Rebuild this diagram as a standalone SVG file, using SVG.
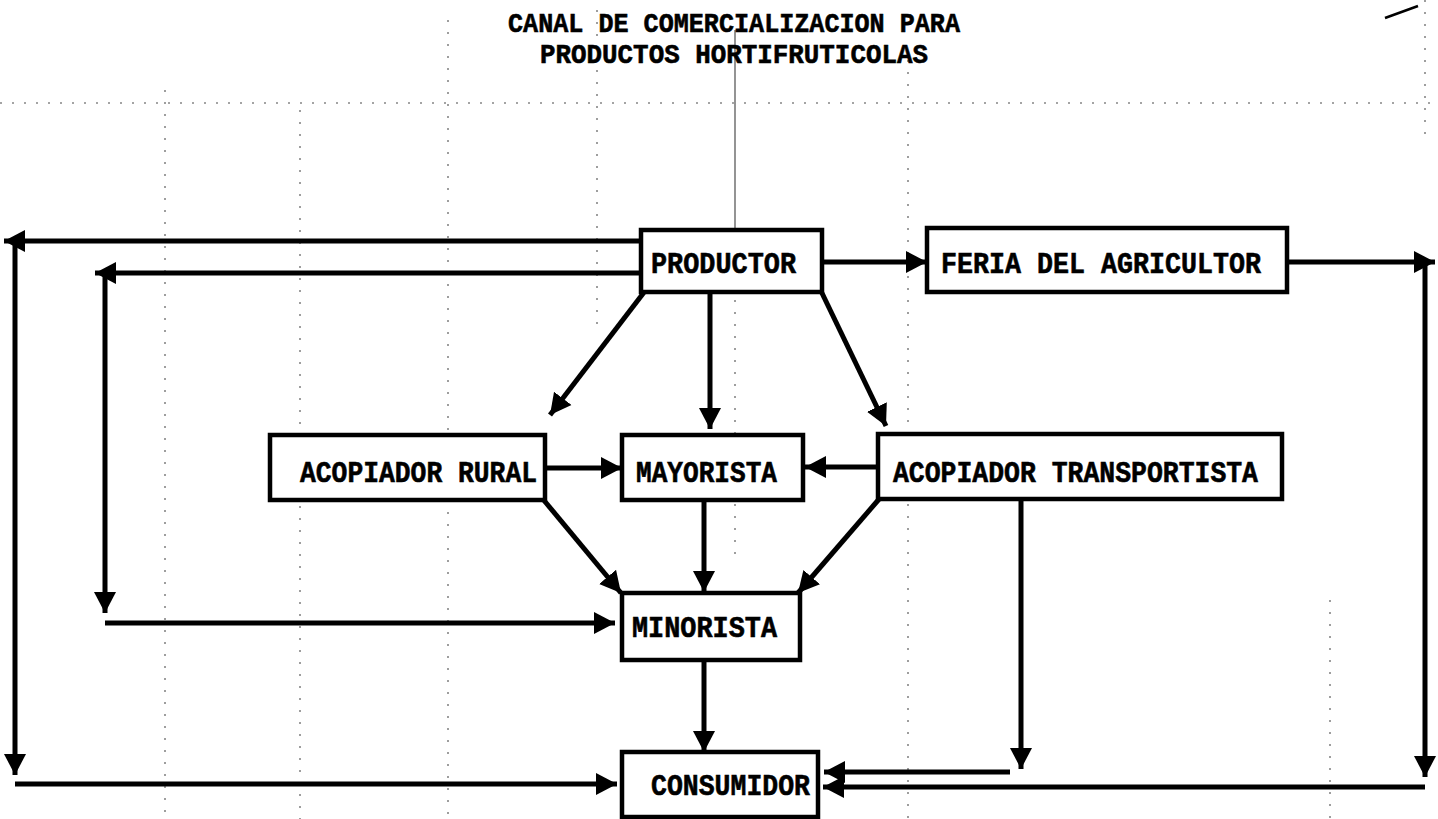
<svg xmlns="http://www.w3.org/2000/svg" width="1438" height="819" viewBox="0 0 1438 819">
<style>
.bg{fill:#ffffff}
.grid{stroke:#222;stroke-width:1.6;stroke-dasharray:2 10;fill:none;opacity:0.55}
.box{fill:#ffffff;stroke:#000;stroke-width:4.5}
.lbl{font-family:"Liberation Mono","DejaVu Sans Mono",monospace;font-weight:bold;font-size:30px;fill:#000;stroke:#000;stroke-width:0.6}
.ttl{font-family:"Liberation Mono","DejaVu Sans Mono",monospace;font-weight:bold;font-size:28px;fill:#000;stroke:#000;stroke-width:0.6}
.con{stroke:#000;stroke-width:5;fill:none;marker-end:url(#ah)}
</style>
<defs>
<marker id="ah" markerUnits="userSpaceOnUse" viewBox="0 0 22 24" markerWidth="22" markerHeight="24" refX="21" refY="12" orient="auto">
<path d="M0,1 L21,12 L0,23 z" fill="#000"/>
</marker>
</defs>
<rect class="bg" x="0" y="0" width="1438" height="819"/>
<g id="background-grid">
<line class="grid" x1="165" y1="90" x2="165" y2="819"/>
<line class="grid" x1="300" y1="110" x2="300" y2="819"/>
<line class="grid" x1="448" y1="20" x2="448" y2="819"/>
<line class="grid" x1="597" y1="10" x2="597" y2="330"/>
<line class="grid" x1="735" y1="300" x2="735" y2="560"/>
<line x1="735" y1="30" x2="735" y2="260" stroke="#000" stroke-width="1.2" opacity="0.7"/>
<line class="grid" x1="908" y1="60" x2="908" y2="819"/>
<line class="grid" x1="1330" y1="600" x2="1330" y2="819"/>
<line class="grid" x1="1425" y1="0" x2="1425" y2="140"/>
<line class="grid" x1="0" y1="103" x2="1430" y2="103"/>
<line x1="1385" y1="18" x2="1418" y2="6" stroke="#000" stroke-width="2.5"/>
</g>
<g id="title">
<text class="ttl" x="508" y="32" textLength="452" lengthAdjust="spacingAndGlyphs">CANAL DE COMERCIALIZACION PARA</text>
<text class="ttl" x="540" y="63" textLength="388" lengthAdjust="spacingAndGlyphs">PRODUCTOS HORTIFRUTICOLAS</text>
</g>
<g id="connectors">
<path class="con" d="M641,241 H4"/>
<path class="con" d="M15,241 V775"/>
<path class="con" d="M15,784 H617"/>
<path class="con" d="M641,273 H95"/>
<path class="con" d="M105,273 V613"/>
<path class="con" d="M105,623 H615"/>
<path class="con" d="M822,262 H927"/>
<path class="con" d="M1287,262 H1435"/>
<path class="con" d="M1425,262 V777"/>
<path class="con" d="M1425,787 H823"/>
<path class="con" d="M645,291 L550,415"/>
<path class="con" d="M710,292 V429"/>
<path class="con" d="M821,291 L886,426"/>
<path class="con" d="M545,468 H622"/>
<path class="con" d="M878,467 H805"/>
<path class="con" d="M542,498 L621,593"/>
<path class="con" d="M880,498 L798,593"/>
<path class="con" d="M704,500 V592"/>
<path class="con" d="M704,660 V752"/>
<path class="con" d="M1021,499 V769"/>
<path class="con" d="M1010,772 H824"/>
</g>
<g id="productor">
<rect class="box" x="641" y="230" width="181" height="62"/>
<text class="lbl" x="651" y="273" textLength="145" lengthAdjust="spacingAndGlyphs">PRODUCTOR</text>
</g>
<g id="feria">
<rect class="box" x="927" y="228" width="360" height="64"/>
<text class="lbl" x="941" y="273" textLength="320" lengthAdjust="spacingAndGlyphs">FERIA DEL AGRICULTOR</text>
</g>
<g id="acopiador-rural">
<rect class="box" x="270" y="435" width="275" height="65"/>
<text class="lbl" x="300" y="482" textLength="237" lengthAdjust="spacingAndGlyphs">ACOPIADOR RURAL</text>
</g>
<g id="mayorista">
<rect class="box" x="622" y="435" width="181" height="65"/>
<text class="lbl" x="636" y="482" textLength="141" lengthAdjust="spacingAndGlyphs">MAYORISTA</text>
</g>
<g id="acopiador-transportista">
<rect class="box" x="878" y="434" width="404" height="65"/>
<text class="lbl" x="893" y="482" textLength="365" lengthAdjust="spacingAndGlyphs">ACOPIADOR TRANSPORTISTA</text>
</g>
<g id="minorista">
<rect class="box" x="622" y="593" width="178" height="67"/>
<text class="lbl" x="632" y="637" textLength="145" lengthAdjust="spacingAndGlyphs">MINORISTA</text>
</g>
<g id="consumidor">
<rect class="box" x="622" y="752" width="196" height="65"/>
<text class="lbl" x="651" y="795" textLength="159" lengthAdjust="spacingAndGlyphs">CONSUMIDOR</text>
</g>
</svg>
